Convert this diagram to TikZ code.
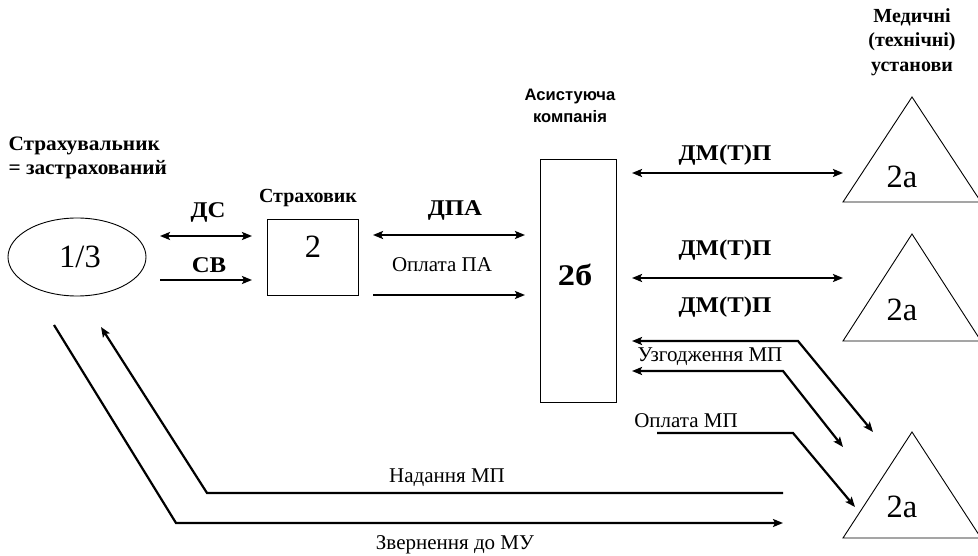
\documentclass[tikz,border=0pt]{standalone}
\usepackage{fontspec}
\setmainfont{Liberation Serif}
\newfontfamily\arialfont{Liberation Sans}
\newfontfamily\wideserif[FakeStretch=1.1]{Liberation Serif}
\newfontfamily\numserif[FakeStretch=1.15]{Liberation Serif}
\newfontfamily\titserif[FakeStretch=1.04]{Liberation Serif}
\usetikzlibrary{arrows.meta}
\begin{document}
\begin{tikzpicture}[x=1pt,y=-1pt,
  shp/.style={draw,line width=0.9pt},
  conn/.style={line width=2.2pt,-{Stealth[length=10pt,width=8pt,inset=2pt]}},
  bconn/.style={line width=2.2pt,{Stealth[length=10pt,width=8pt,inset=2pt]}-{Stealth[length=10pt,width=8pt,inset=2pt]}},
  num/.style={font=\fontsize{32.5}{34}\selectfont},
  bnum/.style={font=\numserif\fontsize{30}{32}\selectfont\bfseries},
  blab/.style={font=\wideserif\fontsize{22.5}{24}\selectfont\bfseries},
  rlab/.style={font=\fontsize{21}{23}\selectfont},
  title/.style={font=\fontsize{20}{24.5}\selectfont\bfseries,align=center},
  ltitle/.style={font=\titserif\fontsize{20.5}{24}\selectfont\bfseries,align=left},
  stitle/.style={font=\arialfont\fontsize{16.6}{22}\selectfont\bfseries,align=center}
]
\useasboundingbox (0,0) rectangle (978,556);
% shapes
\draw[shp] (77,257) ellipse [x radius=69, y radius=39];
\node[num] (n13) at (80,257) {1/3};
\node[shp,minimum width=91pt,minimum height=76pt,inner sep=0pt] (b2) at (312.5,257) {};
\node[num] (n2) at (313,247) {2};
\node[shp,minimum width=76pt,minimum height=243pt,inner sep=0pt] (b2b) at (578,280.5) {};
\node[bnum] (n2b) at (575,275) {2б};
\draw[shp] (843,202) -- (912,97) -- (981,202) -- cycle;
\draw[shp] (843,341) -- (912,234) -- (981,341) -- cycle;
\draw[shp] (843,538) -- (912,432) -- (981,538) -- cycle;
\node[num] (t1) at (902,177) {2a};
\node[num] (t2) at (902,310) {2a};
\node[num] (t3) at (902,507) {2a};
% titles
\node[ltitle,anchor=west] (tS) at (5,158) {Страхувальник\\= застрахований};
\node[title] (tSk) at (308,198) {Страховик};
\node[stitle] (tA) at (570,106) {Асистуюча\\компанія};
\node[title] (tM) at (912,42) {Медичні\\(технічні)\\установи};
% coordinates
\coordinate (a1) at (160,236); \coordinate (a2) at (252,236);
\coordinate (c1) at (160,280); \coordinate (c2) at (252,280);
\coordinate (d1) at (373,235); \coordinate (d2) at (525,235);
\coordinate (o1) at (373,295); \coordinate (o2) at (525,295);
\coordinate (m1) at (632,173); \coordinate (m2) at (843,173);
\coordinate (k1) at (632,278); \coordinate (k2) at (843,278);
\coordinate (u1) at (632,341); \coordinate (u1b) at (798,341); \coordinate (u1c) at (873,432);
\coordinate (u2) at (632,371); \coordinate (u2b) at (783,371); \coordinate (u2c) at (843,447);
\coordinate (p1) at (657,433); \coordinate (p1b) at (793,433); \coordinate (p1c) at (855,507);
\coordinate (h1) at (783,493); \coordinate (h1b) at (207,493); \coordinate (h1c) at (101,327);
\coordinate (z1) at (54,325); \coordinate (z1b) at (176,523); \coordinate (z1c) at (783,523);
% connectors
\draw[bconn] (a1) -- (a2);
\draw[conn] (c1) -- (c2);
\draw[bconn] (d1) -- (d2);
\draw[conn] (o1) -- (o2);
\draw[bconn] (m1) -- (m2);
\draw[bconn] (k1) -- (k2);
\draw[bconn] (u1) -- (u1b) -- (u1c);
\draw[bconn] (u2) -- (u2b) -- (u2c);
\draw[conn] (p1) -- (p1b) -- (p1c);
\draw[conn] (h1) -- (h1b) -- (h1c);
\draw[conn] (z1) -- (z1b) -- (z1c);
% labels
\node[blab] (lDS) at (208,212) {ДС};
\node[blab] (lSV) at (209,265) {СВ};
\node[blab] (lDPA) at (455,210) {ДПА};
\node[rlab] (lOPA) at (442,265) {Оплата ПА};
\node[blab] (lM1) at (725,155) {ДМ(Т)П};
\node[blab] (lM2) at (725,250) {ДМ(Т)П};
\node[blab] (lM3) at (725,307) {ДМ(Т)П};
\node[rlab] (lU) at (710,357) {Узгодження МП};
\node[rlab] (lOM) at (686,421) {Оплата МП};
\node[rlab] (lN) at (447,478) {Надання МП};
\node[rlab] (lZ) at (455,545) {Звернення до МУ};
\end{tikzpicture}
\end{document}
